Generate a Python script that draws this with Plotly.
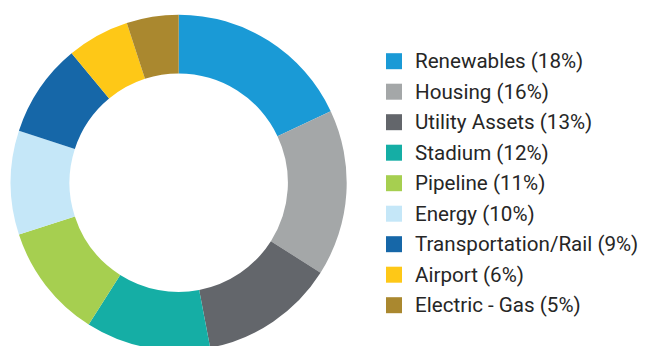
import plotly.graph_objects as go

# Portfolio share by sector
sectors = ["Renewables", "Housing", "Utility Assets", "Stadium", "Pipeline",
           "Energy", "Transportation/Rail", "Airport", "Electric - Gas"]
shares = [18, 16, 13, 12, 11, 10, 9, 6, 5]
colors = ["#1a9ad6", "#a4a7a8", "#63666b", "#15aea5", "#a6cf50",
          "#c5e7f8", "#1667a8", "#fec817", "#aa882f"]

W, H = 647, 352

# Donut geometry in pixels
cx, cy, r = 178.7, 182.7, 168.0

fig = go.Figure(go.Pie(
    labels=sectors,
    values=shares,
    marker=dict(colors=colors, line=dict(width=0)),
    hole=0.65,
    sort=False,
    direction="clockwise",
    rotation=0,
    textinfo="none",
    hoverinfo="label+percent",
    showlegend=False,
    domain=dict(x=[(cx - r) / W, (cx + r) / W],
                y=[1 - (cy + r) / H, 1 - (cy - r) / H]),
))

# Custom legend: coloured squares with labels
sq_x0, sq_size, txt_x = 386, 16, 413
row0, row_gap = 61.2, 30.5
shapes, annotations = [], []
for i, (name, val, col) in enumerate(zip(sectors, shares, colors)):
    yc = row0 + i * row_gap
    shapes.append(dict(
        type="rect", xref="paper", yref="paper",
        x0=sq_x0 / W, x1=(sq_x0 + sq_size) / W,
        y0=1 - (yc + sq_size / 2) / H, y1=1 - (yc - sq_size / 2) / H,
        fillcolor=col, line=dict(width=0),
    ))
    annotations.append(dict(
        text=f"{name} ({val}%)", xref="paper", yref="paper",
        x=txt_x / W, y=1 - yc / H, xanchor="left", yanchor="middle",
        showarrow=False, font=dict(family="Roboto", size=20.6, color="#262626"),
    ))

fig.update_layout(
    width=W, height=H,
    margin=dict(l=0, r=0, t=0, b=0),
    paper_bgcolor="white", plot_bgcolor="white",
    shapes=shapes, annotations=annotations,
)

fig.write_html(
    "out.html",
    post_script="document.body.style.margin='0';document.body.style.overflow='hidden';",
)
